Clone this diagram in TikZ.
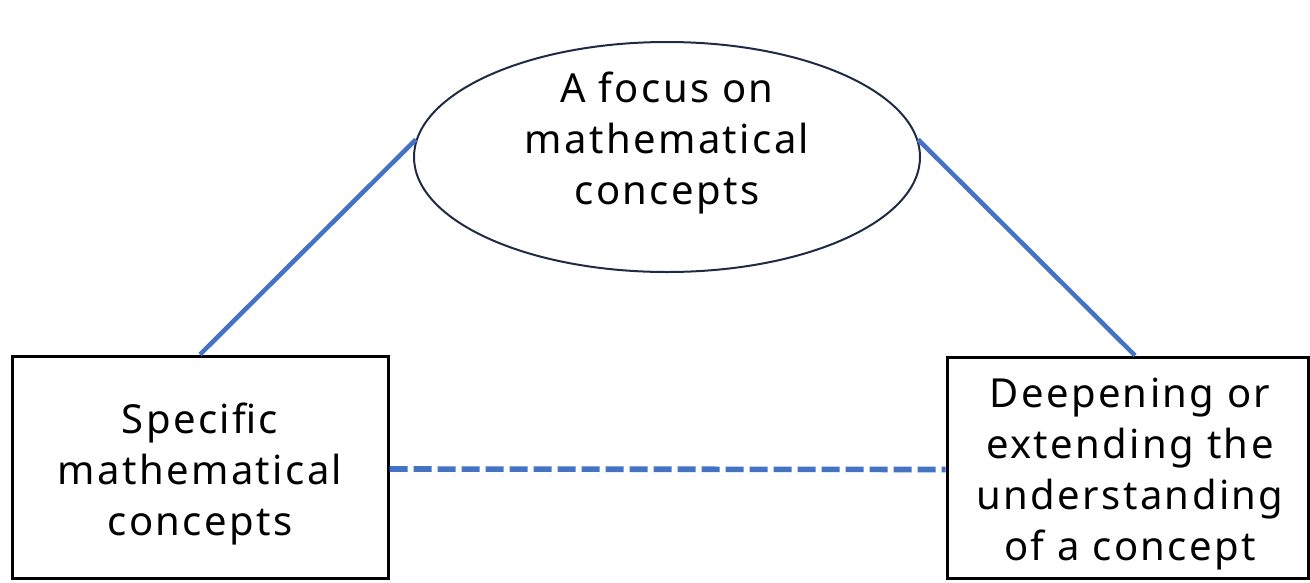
\documentclass[tikz,border=0pt]{standalone}
\usepackage{fontspec}
\setmainfont{Noto Sans}[LetterSpace=6]
\usetikzlibrary{shapes.geometric}
\definecolor{linkblue}{HTML}{4472C4}
\definecolor{navy}{HTML}{1F2A44}
\tikzset{
  lbl/.style={font=\fontsize{30}{38.25}\selectfont, align=center, text=black, inner sep=0pt},
  boxnode/.style={draw=black, line width=2.25pt, rectangle, inner sep=0pt},
  ovalnode/.style={draw=navy, line width=1.5pt, ellipse, inner sep=0pt},
  link/.style={draw=linkblue, line width=3.4pt},
  dlink/.style={draw=linkblue, line width=4.2pt, dash pattern=on 13.5pt off 4.5pt}
}
\begin{document}
\begin{tikzpicture}[x=0.75pt,y=-0.75pt]
\useasboundingbox (0,0) rectangle (1310,582);
\node[ovalnode, minimum width=379.5pt, minimum height=172.5pt] (focus) at (667,157) {};
\node[lbl] (focustext) at (667,143) {A focus on\\mathematical\\concepts};
\node[boxnode, minimum width=282pt, minimum height=166.5pt] (spec) at (200,467) {};
\node[lbl] (spectext) at (200,474) {Specific\\mathematical\\concepts};
\node[boxnode, minimum width=270.75pt, minimum height=165.75pt] (deep) at (1127.5,467.5) {};
\node[lbl] (deeptext) at (1130,474) {Deepening or\\extending the\\understanding\\of a concept};
\draw[link] (spec.north) -- (focus.176);
\draw[link] (focus.4) -- (deep.north -| 1135,0);
\draw[dlink] ([yshift=-1.5pt]spec.east) -- ([yshift=-1.5pt]deep.west);
\end{tikzpicture}
\end{document}
